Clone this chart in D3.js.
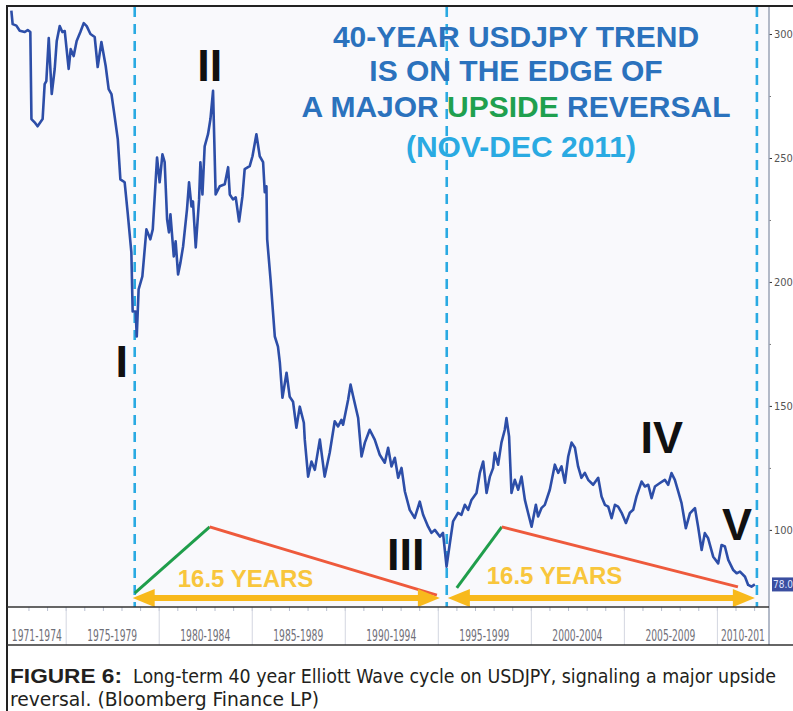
<!DOCTYPE html>
<html>
<head>
<meta charset="utf-8">
<script src="https://cdn.jsdelivr.net/npm/d3@7"></script>
<style>
  body { margin: 0; background: #fff; }
  svg { display: block; }
</style>
</head>
<body>
<div class="svg-container"></div>
<script>
// monthly-ish USDJPY closes
const years = [
  1972.08, 1972.15, 1972.35, 1972.53, 1972.80, 1972.96, 1973.10, 1973.16, 1973.33, 1973.49,
  1973.76, 1973.87, 1973.96, 1974.09, 1974.25, 1974.41, 1974.52, 1974.68, 1974.82, 1974.95,
  1975.16, 1975.27, 1975.43, 1975.59, 1975.79, 1975.97, 1976.13, 1976.33, 1976.56, 1976.72,
  1976.92, 1977.15, 1977.31, 1977.46, 1977.63, 1977.80, 1977.94, 1978.17, 1978.33, 1978.53,
  1978.60, 1978.76, 1978.82, 1978.92, 1979.12, 1979.34, 1979.55, 1979.68, 1979.91, 1980.05,
  1980.20, 1980.32, 1980.45, 1980.55, 1980.63, 1980.81, 1980.91, 1981.04, 1981.17, 1981.31,
  1981.52, 1981.63, 1981.76, 1981.84, 1981.99, 1982.17, 1982.24, 1982.35, 1982.47, 1982.65,
  1982.78, 1982.92, 1983.06, 1983.28, 1983.55, 1983.73, 1983.82, 1983.99, 1984.14, 1984.32,
  1984.50, 1984.62, 1984.89, 1985.04, 1985.25, 1985.43, 1985.61, 1985.70, 1985.79, 1985.83,
  1986.01, 1986.24, 1986.41, 1986.51, 1986.65, 1986.87, 1987.04, 1987.22, 1987.40, 1987.58,
  1987.80, 1987.85, 1988.03, 1988.21, 1988.39, 1988.66, 1988.92, 1989.19, 1989.46, 1989.64,
  1989.82, 1989.91, 1990.18, 1990.31, 1990.45, 1990.72, 1990.90, 1991.08, 1991.34, 1991.61,
  1991.88, 1992.15, 1992.33, 1992.51, 1992.69, 1992.87, 1993.05, 1993.23, 1993.49, 1993.76,
  1994.03, 1994.21, 1994.48, 1994.66, 1994.84, 1995.11, 1995.28, 1995.47, 1995.65, 1995.82,
  1996.09, 1996.27, 1996.45, 1996.63, 1996.81, 1997.08, 1997.26, 1997.44, 1997.62, 1997.80,
  1997.97, 1998.06, 1998.24, 1998.42, 1998.60, 1998.69, 1998.83, 1998.96, 1999.14, 1999.32,
  1999.50, 1999.68, 1999.85, 2000.04, 2000.27, 2000.39, 2000.58, 2000.75, 2001.02, 2001.29,
  2001.47, 2001.65, 2001.83, 2002.01, 2002.19, 2002.37, 2002.54, 2002.72, 2002.90, 2003.08,
  2003.35, 2003.62, 2003.80, 2003.98, 2004.16, 2004.34, 2004.52, 2004.69, 2004.88, 2005.11,
  2005.32, 2005.50, 2005.68, 2005.95, 2006.13, 2006.31, 2006.49, 2006.67, 2006.94, 2007.20,
  2007.38, 2007.56, 2007.74, 2007.92, 2008.10, 2008.33, 2008.55, 2008.82, 2008.99, 2009.18,
  2009.35, 2009.53, 2009.80, 2010.07, 2010.25, 2010.43, 2010.61, 2010.88, 2011.06, 2011.24,
  2011.51, 2011.68, 2011.86, 2012.04
];
const values = [
  309.4, 304.0, 303.4, 301.3, 300.8, 301.6, 300.8, 265.7, 264.4, 262.8,
  265.7, 279.8, 281.0, 298.4, 275.8, 285.9, 297.2, 303.2, 300.8, 301.2,
  285.9, 293.9, 291.1, 297.2, 300.8, 304.4, 303.2, 300.0, 298.8, 286.7,
  296.8, 287.1, 277.8, 275.8, 266.9, 257.6, 241.4, 240.2, 228.1, 211.9,
  188.1, 188.1, 178.0, 197.0, 202.2, 221.2, 217.2, 221.2, 250.2, 240.2,
  251.5, 248.3, 225.3, 220.0, 227.3, 210.3, 216.4, 203.0, 207.9, 214.3,
  229.3, 240.2, 230.5, 232.5, 213.9, 233.3, 248.3, 235.3, 254.7, 259.6,
  265.7, 277.1, 235.3, 238.6, 239.4, 246.3, 235.3, 233.3, 234.1, 224.4,
  234.5, 245.5, 246.7, 250.7, 259.6, 250.7, 248.3, 236.2, 238.6, 217.2,
  201.0, 178.0, 173.9, 167.5, 153.3, 163.4, 153.7, 151.7, 141.2, 149.7,
  143.2, 136.4, 121.5, 127.6, 124.2, 136.4, 121.5, 131.1, 143.8, 141.7,
  144.4, 142.4, 152.5, 158.6, 153.9, 145.1, 129.6, 135.2, 140.4, 136.4,
  130.3, 127.1, 133.1, 125.6, 129.1, 121.0, 125.0, 115.5, 108.1, 104.8,
  111.4, 106.1, 101.3, 98.8, 100.0, 97.3, 98.8, 85.2, 94.7, 103.4,
  106.9, 106.1, 110.1, 108.1, 112.1, 114.9, 123.0, 127.6, 114.9, 121.5,
  124.9, 131.1, 126.3, 135.2, 140.4, 145.1, 137.7, 114.9, 120.2, 116.2,
  121.5, 112.1, 106.9, 101.3, 110.1, 105.4, 108.9, 110.1, 116.2, 126.3,
  123.0, 125.6, 119.0, 129.6, 135.2, 133.1, 125.6, 121.0, 123.0, 120.2,
  118.2, 121.0, 113.5, 110.1, 109.4, 104.7, 110.1, 109.4, 106.9, 102.8,
  106.9, 108.1, 113.5, 119.5, 117.5, 118.2, 112.8, 117.5, 118.9, 120.2,
  118.2, 122.9, 120.2, 115.5, 110.8, 100.7, 106.7, 108.8, 101.3, 91.9,
  98.7, 96.6, 89.2, 86.5, 93.9, 93.3, 87.9, 83.8, 82.5, 83.2,
  81.1, 77.8, 77.1, 78.0
];
const lastLabel = '78.0';

// axes
const yTicks = [100, 150, 200, 250, 300];
const yMinorTicks = [125, 175, 225, 275];
const periodBreaks = [1975, 1980, 1985, 1990, 1995, 2000, 2005, 2010];
const periodLabels = ['1971-1974', '1975-1979', '1980-1984', '1985-1989', '1990-1994',
  '1995-1999', '2000-2004', '2005-2009', '2010-201'];

// annotations
const cycleYears = [1978.71, 1995.48, 2012.15];
const waveLabels = ['I', 'II', 'III', 'IV', 'V'];
const waveYears = [1978.01, 1982.74, 1993.28, 2007.04, 2011.08];
const waveValues = [161.8, 281.0, 83.8, 131.1, 96.0];
const spanStartYears = [1978.60, 1995.54];
const spanEndYears = [1995.11, 2012.04];
const spanValue = 72.5;
const spanLabel = '16.5 YEARS';
const spanLabelYears = [1981.02, 1997.63];
const spanLabelValues = [77.0, 78.2];
const riseStartYears = [1978.71, 1996.02];
const riseStartValues = [74.5, 76.6];
const peakYears = [1982.74, 1998.44];
const peakValues = [101.2, 101.2];
const fallEndYears = [1994.95, 2011.13];
const fallEndValues = [73.7, 77.0];

const titleLines = ['40-YEAR USDJPY TREND', 'IS ON THE EDGE OF'];
const titleDate = '(NOV-DEC 2011)';

const renderChart = () => {
  const width = 793;
  const height = 711;
  const plot = { left: 8, right: 769, top: 7, bottom: 607 };
  const narrow = 'Liberation Sans Narrow, DejaVu Sans Condensed, sans-serif';
  const sans = 'Liberation Sans, Arial, sans-serif';

  const svg = d3.select('.svg-container')
    .append('svg')
    .attr('width', width)
    .attr('height', height);

  const x = d3.scaleLinear().domain([1971.9, 2012.8]).range([plot.left, plot.right]);
  const y = d3.scaleLinear().domain([68.9, 310.9]).range([plot.bottom, plot.top]);

  // plot background
  svg.append('rect')
    .attr('x', plot.left).attr('y', plot.top)
    .attr('width', plot.right - plot.left).attr('height', plot.bottom - plot.top)
    .attr('fill', '#f9f9fc');

  svg.append('clipPath').attr('id', 'clip')
    .append('rect')
    .attr('x', plot.left).attr('y', plot.top)
    .attr('width', plot.right - plot.left).attr('height', plot.bottom - plot.top);

  const g = svg.append('g').attr('clip-path', 'url(#clip)');

  // dashed cycle lines
  g.selectAll('.cycle')
    .data(cycleYears)
    .enter()
    .append('line')
    .attr('x1', d => x(d)).attr('x2', d => x(d))
    .attr('y1', plot.top).attr('y2', plot.bottom)
    .attr('stroke', '#2aaae2')
    .attr('stroke-width', 2.6)
    .attr('stroke-dasharray', '10,7');

  // price line
  const series = years.map((yr, i) => ({ year: yr, value: values[i] }));
  g.append('path')
    .datum(series)
    .attr('fill', 'none')
    .attr('stroke', '#2d4ea8')
    .attr('stroke-width', 2.6)
    .attr('stroke-linejoin', 'round')
    .attr('d', d3.line().x(d => x(d.year)).y(d => y(d.value)));

  // green / red wave legs
  riseStartYears.forEach((yr, i) => {
    g.append('line')
      .attr('x1', x(yr)).attr('y1', y(riseStartValues[i]))
      .attr('x2', x(peakYears[i])).attr('y2', y(peakValues[i]))
      .attr('stroke', '#1f9e4b').attr('stroke-width', 3);
    g.append('line')
      .attr('x1', x(peakYears[i])).attr('y1', y(peakValues[i]))
      .attr('x2', x(fallEndYears[i])).attr('y2', y(fallEndValues[i]))
      .attr('stroke', '#ee5a3c').attr('stroke-width', 3);
  });

  // yellow double arrows
  spanStartYears.forEach((yr, i) => {
    const x0 = x(yr);
    const x1 = x(spanEndYears[i]);
    const yy = y(spanValue);
    g.append('line')
      .attr('x1', x0 + 10).attr('x2', x1 - 10)
      .attr('y1', yy).attr('y2', yy)
      .attr('stroke', '#f8b91c').attr('stroke-width', 6);
    g.append('path')
      .attr('d', `M${x0},${yy} L${x0 + 22},${yy - 9} L${x0 + 22},${yy + 9} Z`)
      .attr('fill', '#f8b91c');
    g.append('path')
      .attr('d', `M${x1},${yy} L${x1 - 22},${yy - 9} L${x1 - 22},${yy + 9} Z`)
      .attr('fill', '#f8b91c');
  });

  g.selectAll('.span-label')
    .data(spanLabelYears)
    .enter()
    .append('text')
    .attr('x', d => x(d))
    .attr('y', (d, i) => y(spanLabelValues[i]))
    .attr('font-family', sans)
    .attr('font-weight', 'bold')
    .attr('font-size', 24)
    .attr('fill', '#f8c63c')
    .text(spanLabel);

  // elliott wave numerals
  g.selectAll('.wave')
    .data(waveLabels)
    .enter()
    .append('text')
    .attr('x', (d, i) => x(waveYears[i]))
    .attr('y', (d, i) => y(waveValues[i]))
    .attr('text-anchor', 'middle')
    .attr('font-family', sans)
    .attr('font-weight', 'bold')
    .attr('font-size', 45)
    .attr('fill', '#111')
    .text(d => d);

  // title block
  const title = svg.append('g')
    .attr('font-family', sans)
    .attr('font-weight', 'bold')
    .attr('font-size', 30)
    .attr('text-anchor', 'middle');
  title.selectAll('.tl')
    .data(titleLines)
    .enter()
    .append('text')
    .attr('x', 516)
    .attr('y', (d, i) => 47 + i * 34)
    .attr('fill', '#2b72bd')
    .text(d => d);
  const t3 = title.append('text').attr('x', 516).attr('y', 117).attr('fill', '#2b72bd');
  t3.append('tspan').text('A MAJOR ');
  t3.append('tspan').attr('fill', '#1fa04f').text('UPSIDE');
  t3.append('tspan').text(' REVERSAL');
  title.append('text')
    .attr('x', 521).attr('y', 157)
    .attr('fill', '#2aaae2')
    .text(titleDate);

  // bottom axis: yearly ticks and five-year separators
  const xAxisG = svg.append('g').attr('transform', `translate(0,${plot.bottom})`);
  xAxisG.append('rect')
    .attr('x', plot.left).attr('y', 0)
    .attr('width', plot.right - plot.left).attr('height', 38)
    .attr('fill', '#fff');
  xAxisG.append('g')
    .call(d3.axisBottom(x).tickValues(d3.range(1973, 2013)).tickSize(4).tickFormat(''))
    .call(a => a.select('.domain').remove())
    .call(a => a.selectAll('line').attr('stroke', '#b9bfd0'));
  xAxisG.append('g')
    .call(d3.axisBottom(x).tickValues(periodBreaks).tickSize(38).tickFormat(''))
    .call(a => a.select('.domain').remove())
    .call(a => a.selectAll('line').attr('stroke', '#d3d6e0'));

  const edges = [x.domain()[0]].concat(periodBreaks, [x.domain()[1]]);
  xAxisG.selectAll('.period')
    .data(periodLabels)
    .enter()
    .append('text')
    .attr('x', (d, i) => (x(edges[i]) + x(edges[i + 1])) / 2)
    .attr('y', 34)
    .attr('text-anchor', 'middle')
    .attr('font-family', narrow)
    .attr('font-size', 15)
    .attr('textLength', (d, i) => d.length > 8 ? 50 : 44)
    .attr('lengthAdjust', 'spacingAndGlyphs')
    .attr('fill', '#6f6f78')
    .text(d => d);

  // right axis
  const yAxisG = svg.append('g').attr('transform', `translate(${plot.right},0)`);
  yAxisG.call(d3.axisRight(y).tickValues(yTicks).tickSize(3).tickPadding(2).tickFormat(d3.format('d')))
    .call(a => a.select('.domain').remove())
    .call(a => a.selectAll('line').attr('stroke', '#333'))
    .call(a => a.selectAll('text')
      .attr('font-family', narrow)
      .attr('font-size', 11)
      .attr('fill', '#555'));
  yAxisG.append('g')
    .call(d3.axisRight(y).tickValues(yMinorTicks).tickSize(2).tickFormat(''))
    .call(a => a.select('.domain').remove())
    .call(a => a.selectAll('line').attr('stroke', '#777'));
  svg.append('line')
    .attr('x1', plot.right).attr('x2', plot.right)
    .attr('y1', plot.top).attr('y2', plot.bottom + 38)
    .attr('stroke', '#9aa3b6').attr('stroke-width', 1.5);

  // last price tag
  const lastY = y(values[values.length - 1]);
  svg.append('rect')
    .attr('x', plot.right + 3).attr('y', lastY - 7)
    .attr('width', width - plot.right - 3).attr('height', 14)
    .attr('fill', '#3a4ea0');
  svg.append('text')
    .attr('x', plot.right + 4).attr('y', lastY + 4)
    .attr('font-family', narrow)
    .attr('font-size', 10)
    .attr('fill', '#dfe4ff')
    .text(lastLabel);

  // frame lines
  svg.append('line').attr('x1', 7).attr('x2', 7).attr('y1', 6).attr('y2', height)
    .attr('stroke', '#222').attr('stroke-width', 2);
  svg.append('line').attr('x1', 6).attr('x2', width).attr('y1', 6).attr('y2', 6)
    .attr('stroke', '#222').attr('stroke-width', 2);
  svg.append('line').attr('x1', 7).attr('x2', plot.right).attr('y1', plot.bottom).attr('y2', plot.bottom)
    .attr('stroke', '#333').attr('stroke-width', 1.5);
  svg.append('line').attr('x1', 7).attr('x2', width).attr('y1', plot.bottom + 38).attr('y2', plot.bottom + 38)
    .attr('stroke', '#333').attr('stroke-width', 1.5);

  // caption
  const cap = svg.append('g')
    .attr('fill', '#231f20');
  cap.append('text')
    .attr('x', 10).attr('y', 683)
    .attr('font-family', sans)
    .attr('font-size', 20)
    .attr('font-weight', 'bold')
    .attr('textLength', 112).attr('lengthAdjust', 'spacingAndGlyphs')
    .text('FIGURE 6:');
  cap.append('text')
    .attr('x', 133).attr('y', 683)
    .attr('font-family', narrow)
    .attr('font-size', 19)
    .attr('textLength', 643).attr('lengthAdjust', 'spacingAndGlyphs')
    .text('Long-term 40 year Elliott Wave cycle on USDJPY, signaling a major upside');
  cap.append('text')
    .attr('x', 10).attr('y', 706)
    .attr('font-family', narrow)
    .attr('font-size', 19)
    .attr('textLength', 309).attr('lengthAdjust', 'spacingAndGlyphs')
    .text('reversal. (Bloomberg Finance LP)');
};

renderChart();
</script>
</body>
</html>
